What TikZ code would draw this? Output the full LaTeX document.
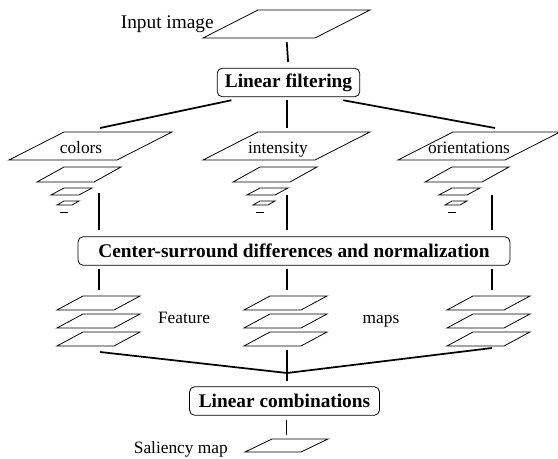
\documentclass[tikz,border=0pt]{standalone}
\usepackage{fontspec}
\setmainfont{Liberation Serif}
\usepackage{tikz}
\usetikzlibrary{positioning}

\begin{document}
\begin{tikzpicture}[
        x=0.75pt, y=-0.75pt,
        box/.style={draw, rounded corners=4pt, line width=0.6pt, inner sep=0pt, minimum height=21.5pt, font=\fontsize{14.5}{17}\bfseries},
        tag/.style={inner sep=0pt, font=\fontsize{13}{15}\selectfont},
        link/.style={line width=1.3pt},
        pics/plane/.style n args={3}{code={
            \draw[line width=0.6pt] (0,0) -- (#1,0) -- (#1+#3,-#2) -- (#3,-#2) -- cycle;
            \coordinate (-s) at (#1/2+#3/2,0);
            \coordinate (-n) at (#1/2+#3/2,-#2);
        }}
    ]

    \useasboundingbox (0,0) rectangle (558,458);

    \pic (in) at (203,38) {plane={112}{28}{55}};
    \node[tag, anchor=base east, font=\fontsize{14.5}{17}\selectfont] (intext) at (214,28) {Input image};

    \node[box, minimum width=107pt] (lf) at (288.5,82.5) {Linear filtering};
    \draw[link, shorten <=3pt, shorten >=4.5pt] (in-s) -- (lf.north);

    \pic (cl) at (9,160) {plane={108}{28}{55}};
    \pic (it) at (203,160) {plane={112}{28}{55}};
    \pic (or) at (398,160) {plane={107}{28}{55}};
    \node[tag, anchor=base] (cltext) at (81,153) {colors};
    \node[tag, anchor=base] (ittext) at (278,153) {intensity};
    \node[tag, anchor=base] (ortext) at (469,153) {orientations};

    \coordinate (top1) at (100,128);
    \coordinate (top2) at (287,128);
    \coordinate (top3) at (495,128);
    \draw[link] ([xshift=11pt,yshift=-2.25pt]lf.south west) -- (top1);
    \draw[link] ([yshift=-2.25pt]lf.south -| top2) -- (top2);
    \draw[link] ([xshift=-12.75pt,yshift=-2.25pt]lf.south east) -- (top3);

    % pyramids
    \foreach \t in {64,260,452} {
        \pic at (\t-27,182) {plane={57}{15}{27}};
        \pic at (\t-13,195) {plane={28}{7}{13}};
        \pic at (\t-7,205) {plane={15}{4}{7}};
        \draw[line width=0.6pt] (\t-4,212) -- (\t+4,212);
    }

    \node[box, minimum width=324pt] (cs) at (294,251) {Center-surround differences and normalization};

    \coordinate (p1) at (99,193);
    \coordinate (p2) at (287,195);
    \coordinate (p3) at (492,195);
    \coordinate (q1) at (99,290);
    \coordinate (q2) at (287,290);
    \coordinate (q3) at (492,290);
    \foreach \k in {1,2,3} {
        \draw[link, shorten >=4.5pt] (p\k) -- (p\k |- cs.north);
        \draw[link, shorten <=2.25pt] (cs.south -| q\k) -- (q\k);
    }

    % feature maps
    \foreach \x in {57,244,447}
        \foreach \y in {310,328,346}
            \pic at (\x,\y) {plane={57}{14}{26}};
    \node[tag, anchor=base] (feat) at (184,323) {Feature};
    \node[tag, anchor=base] (maps) at (381,323) {maps};

    \node[box, minimum width=142.5pt] (lc) at (284.5,401) {Linear combinations};

    \coordinate (j) at (287,373);
    \coordinate (s1) at (100,352);
    \coordinate (s2) at (287,350);
    \coordinate (s3) at (492,348);
    \draw[link] (s1) -- (j) -- (s3);
    \draw[link, shorten >=3.75pt] (s2) -- (s2 |- lc.north);

    \pic (sm) at (245,452) {plane={56}{13}{27}};
    \draw[link, shorten <=3pt, shorten >=3pt] (lc.south -| sm-n) -- (sm-n);
    \node[tag, anchor=base east] (smtext) at (228,453) {Saliency map};

\end{tikzpicture}
\end{document}
